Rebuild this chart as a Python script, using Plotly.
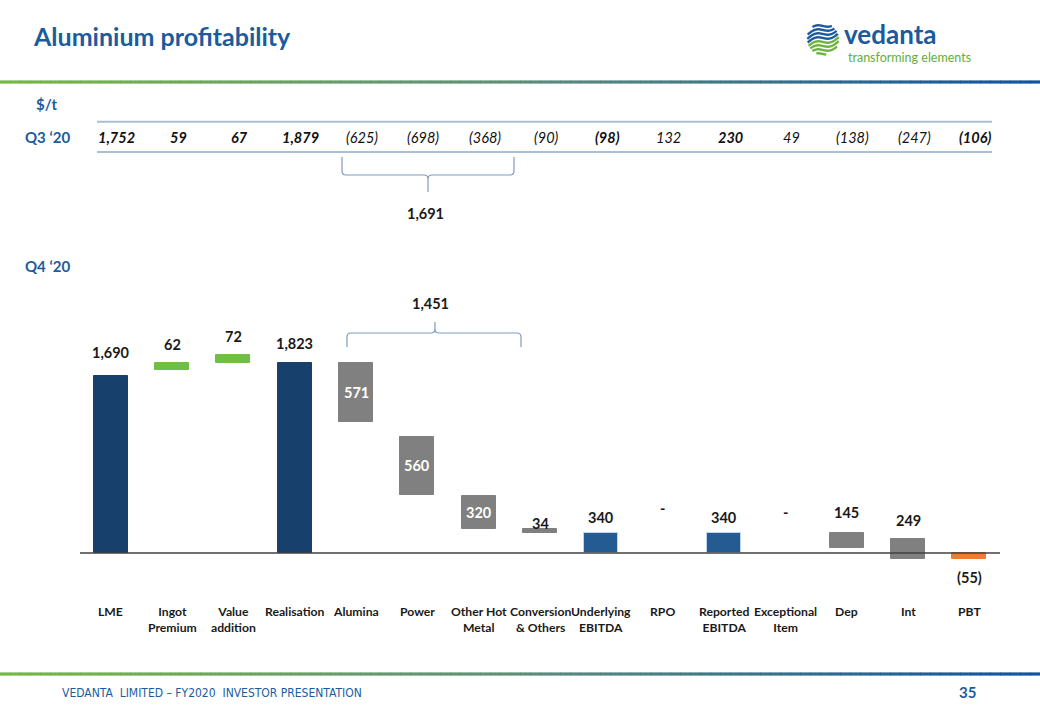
import numpy as np
import plotly.graph_objects as go

# ---------------- data ($/t) ----------------
categories = ["LME", "Ingot<br>Premium", "Value<br>addition", "Realisation", "Alumina",
              "Power", "Other Hot<br>Metal", "Conversion<br>& Others", "Underlying<br>EBITDA",
              "RPO", "Reported<br>EBITDA", "Exceptional<br>Item", "Dep", "Int", "PBT"]
q4_values = [1690, 62, 72, 1823, 571, 560, 320, 34, 340, None, 340, None, 145, 249, -55]
q3_values = [1752, 59, 67, 1879, -625, -698, -368, -90, -98, 132, 230, 49, -138, -247, -106]
# bar extents as drawn on the slide ($/t)
bar_low = [0, 1752, 1823, 0, 1252, 553, 228, 193, 0, None, 0, None, 47, -60, -60]
bar_high = [1690, 1814, 1895, 1823, 1823, 1113, 548, 227, 194, None, 194, None, 192, 137, 0]
bracket_items = ["Alumina", "Power", "Other Hot<br>Metal"]

# ---------------- style ----------------
W, H = 1040, 720
NAVY, GREEN, GREY, BLUE2, ORANGE = "#17406D", "#6FBF44", "#808080", "#245C92", "#ED7D31"
bar_colors = [NAVY, GREEN, GREEN, NAVY, GREY, GREY, GREY, GREY, BLUE2, None, BLUE2, None, GREY, GREY, ORANGE]
label_pos = ["above", "above", "above", "above", "inside", "inside", "inside", "above", "above",
             "dash", "above", "dash", "above", "above", "below"]
label_dy = [24, 19, 18, 19, 0, 0, 0, 6, 15, 45, 15, 41, 20, 18, -18]
q3_bold = {"LME", "Ingot<br>Premium", "Value<br>addition", "Realisation",
           "Underlying<br>EBITDA", "Reported<br>EBITDA", "PBT"}
TITLE_BLUE = "#1B5C9E"
FONT = "Lato, 'Open Sans', sans-serif"


def fmt(v):
    if v is None:
        return "-"
    return f"({abs(v):,})" if v < 0 else f"{v:,}"


def px(x):
    return x / W


def py(y):
    return 1 - y / H


def path(cmds):
    out = []
    for c in cmds:
        if isinstance(c, str):
            out.append(c)
        else:
            out.append(f"{px(c[0]):.5f},{py(c[1]):.5f}")
    return " ".join(out)


def note(x, y, text, size, color, xanchor="center", family=FONT):
    return dict(x=px(x), y=py(y), xref="paper", yref="paper", text=text, showarrow=False,
                xanchor=xanchor, yanchor="middle", font=dict(family=family, size=size, color=color))


x_idx = list(range(len(categories)))
heights = [None if lo is None else hi - lo for lo, hi in zip(bar_low, bar_high)]
line_cols = ["#BDD7EE" if c == BLUE2 else (c or "rgba(0,0,0,0)") for c in bar_colors]

fig = go.Figure()
fig.add_trace(go.Bar(
    x=x_idx, y=heights, base=bar_low, width=0.55,
    marker=dict(color=[c or "rgba(0,0,0,0)" for c in bar_colors],
                line=dict(color=line_cols, width=1)),
    hoverinfo="skip",
))

# baseline and ranges
baseline_y, k = 553, 0.1045
top_px, bot_px = 290, 600
yr = [(baseline_y - bot_px) / k, (baseline_y - top_px) / k]

fig.update_layout(
    width=W, height=H, margin=dict(l=0, r=0, t=0, b=0),
    paper_bgcolor="white", plot_bgcolor="rgba(0,0,0,0)", showlegend=False,
    xaxis=dict(domain=[px(80), px(1000)], range=[-0.5, len(categories) - 0.5],
               visible=False, fixedrange=True),
    yaxis=dict(domain=[py(bot_px), py(top_px)], range=yr, visible=False, fixedrange=True),
    bargap=0,
)

shapes = []
annotations = []

# zero line
shapes.append(dict(type="line", xref="x", yref="y", x0=-0.5, x1=len(categories) - 0.5,
                   y0=0, y1=0, line=dict(color="#404040", width=1.5), layer="above"))

# Q4 labels
for i, v in enumerate(q4_values):
    pos = label_pos[i]
    txt = fmt(v)
    color = "#1A1A1A"
    if pos == "inside":
        y = (bar_low[i] + bar_high[i]) / 2
        color = "white"
    elif pos == "above":
        y = bar_high[i]
    elif pos == "below":
        y = bar_low[i]
    else:
        y = 0
    annotations.append(dict(x=i, y=y, xref="x", yref="y", text=f"<b>{txt}</b>",
                            showarrow=False, yanchor="middle", yshift=label_dy[i],
                            font=dict(family=FONT, size=14.5, color=color)))

# category labels
for i, c in enumerate(categories):
    annotations.append(dict(x=i, y=py(602), xref="x", yref="paper", text=f"<b>{c}</b>",
                            showarrow=False, yanchor="top",
                            font=dict(family=FONT, size=12.2, color="#1A1A1A")))

# Q3 row
for i, v in enumerate(q3_values):
    t = f"<i>{fmt(v)}</i>"
    if categories[i] in q3_bold:
        t = f"<b>{t}</b>"
    annotations.append(dict(x=i, y=py(137), xref="x", yref="paper", text=t, showarrow=False,
                            xshift=6, yanchor="middle",
                            font=dict(family=FONT, size=14.5, color="#111111")))
for yy in (121.7, 152):
    shapes.append(dict(type="line", xref="paper", yref="paper", x0=px(97), x1=px(992),
                       y0=py(yy), y1=py(yy), line=dict(color="#A9BFD4", width=2)))

# braces
bi = [categories.index(c) for c in bracket_items]
q3_sum = -sum(q3_values[i] for i in bi)
q4_sum = sum(q4_values[i] for i in bi)
BR = dict(color="#7F9CC0", width=1.2)
shapes.append(dict(type="path", xref="paper", yref="paper", line=BR, path=path([
    "M", (342, 157), "L", (342, 171), "Q", (342, 175), (346, 175), "L", (424, 175),
    "Q", (428, 175), (428, 179), "L", (428, 192), "M", (428, 179), "Q", (428, 175), (432, 175),
    "L", (510, 175), "Q", (514, 175), (514, 171), "L", (514, 157)])))
shapes.append(dict(type="path", xref="paper", yref="paper", line=BR, path=path([
    "M", (347, 347), "L", (347, 337), "Q", (347, 333), (351, 333), "L", (431, 333),
    "Q", (435, 333), (435, 329), "L", (435, 322), "M", (435, 329), "Q", (435, 333), (439, 333),
    "L", (517, 333), "Q", (521, 333), (521, 337), "L", (521, 347)])))
annotations.append(note(425, 213, f"<b>{q3_sum:,}</b>", 14.5, "#1A1A1A"))
annotations.append(note(430, 303, f"<b>{q4_sum:,}</b>", 14.5, "#1A1A1A"))

# title & side labels
annotations += [
    note(31, 36, "<b>Aluminium profitability</b>", 25, TITLE_BLUE, "left"),
    note(34, 104, "<b>$/t</b>", 15, TITLE_BLUE, "left"),
    note(23, 137, "<b>Q3 ‘20</b>", 15, TITLE_BLUE, "left"),
    note(23, 266, "<b>Q4 ‘20</b>", 15, TITLE_BLUE, "left"),
    note(60, 693, "VEDANTA  LIMITED – FY2020  INVESTOR PRESENTATION", 12, TITLE_BLUE, "left",
         "'Liberation Sans Narrow', 'DejaVu Sans Condensed', sans-serif"),
    note(978, 692, "<b>35</b>", 15, TITLE_BLUE, "right"),
    note(842, 34, "<b>vedanta</b>", 26, "#1B5A9C", "left"),
    note(846, 57.5, "transforming elements", 12.5, "#62AE3C", "left"),
]


# gradient rules
def grad_color(t):
    stops = [(0.0, (116, 184, 67)), (0.5, (93, 143, 122)), (1.0, (17, 83, 158))]
    for (t0, c0), (t1, c1) in zip(stops[:-1], stops[1:]):
        if t <= t1:
            f = (t - t0) / (t1 - t0)
            return "rgb(%d,%d,%d)" % tuple(round(a + (b - a) * f) for a, b in zip(c0, c1))
    return "rgb(17,83,158)"


nseg = 104
for yc in (82, 674):
    for s in range(nseg):
        x0 = W * s / nseg
        x1 = W * (s + 1) / nseg + 0.6
        shapes.append(dict(type="rect", xref="paper", yref="paper", x0=px(x0), x1=px(x1),
                           y0=py(yc + 1.6), y1=py(yc - 1.6), line=dict(width=0),
                           fillcolor=grad_color((s + 0.5) / nseg)))

# logo globe
cx, cy, r = 823, 39, 17
offs = [-13, -9, -5, -1, 3, 7, 11, 15]
for j, off in enumerate(offs):
    xs = np.linspace(cx - r, cx + r, 80)
    ys = cy + off + 2.6 * np.sin((xs - cx) / r * np.pi * 1.1) - 0.3 * (xs - cx)
    inside = (xs - cx) ** 2 + (ys - cy) ** 2 <= (r - 1) ** 2
    pts = [(x, y) for x, y, ok in zip(xs, ys, inside) if ok]
    if len(pts) < 2:
        continue
    cmds = ["M", pts[0]]
    for p in pts[1:]:
        cmds += ["L", p]
    col = "#1B5A9C" if j < 4 else "#6DB33F"
    shapes.append(dict(type="path", xref="paper", yref="paper", path=path(cmds),
                       line=dict(color=col, width=2.4)))

fig.update_layout(shapes=shapes, annotations=annotations)
fig.write_html("out.html", config={"displayModeBar": False},
               post_script="document.body.style.margin='0';")
